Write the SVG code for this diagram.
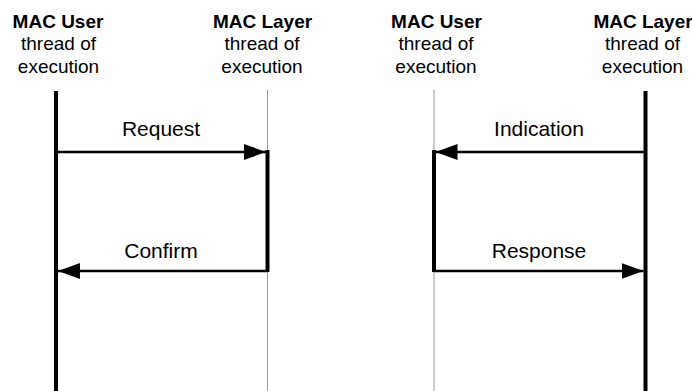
<svg xmlns="http://www.w3.org/2000/svg" width="692" height="391" viewBox="0 0 692 391">
<defs>
<style>
text{font-family:"Liberation Sans",Arial,sans-serif;fill:#000;text-anchor:middle}
.h{font-size:19px;font-weight:bold}
.s{font-size:19px}
.l{font-size:21px}
.thick{stroke:#000;stroke-width:4;fill:none}
.thin{stroke:#999;stroke-width:1;fill:none}
.msg{stroke:#000;stroke-width:2.5;fill:none}
</style>
<marker id="ah" markerUnits="userSpaceOnUse" markerWidth="24" markerHeight="16" refX="22" refY="8" orient="auto">
<path d="M0,0 L22,8 L0,16 Z" fill="#000"/>
</marker>
</defs>
<rect width="692" height="391" fill="#fff"/>
<g id="user1">
<text class="h" x="58" y="27.5">MAC User</text>
<text class="s" x="58.5" y="50">thread of</text>
<text class="s" x="58.5" y="72.5">execution</text>
<line class="thick" x1="56" y1="91" x2="56" y2="391"/>
</g>
<g id="layer1">
<text class="h" x="262.5" y="27.5">MAC Layer</text>
<text class="s" x="262" y="50">thread of</text>
<text class="s" x="262" y="72.5">execution</text>
<line class="thin" x1="267.5" y1="90" x2="267.5" y2="391"/>
<line class="thick" x1="267.5" y1="150" x2="267.5" y2="272"/>
</g>
<g id="user2">
<text class="h" x="436.5" y="27.5">MAC User</text>
<text class="s" x="436" y="50">thread of</text>
<text class="s" x="436" y="72.5">execution</text>
<line class="thin" x1="434" y1="90" x2="434" y2="391"/>
<line class="thick" x1="434" y1="150" x2="434" y2="272"/>
</g>
<g id="layer2">
<text class="h" x="643" y="27.5">MAC Layer</text>
<text class="s" x="642.5" y="50">thread of</text>
<text class="s" x="642.5" y="72.5">execution</text>
<line class="thick" x1="645.5" y1="91" x2="645.5" y2="391"/>
</g>
<g id="connectors">
<line class="msg" x1="56" y1="152" x2="266" y2="152" marker-end="url(#ah)"/>
<text class="l" x="161" y="136">Request</text>
<line class="msg" x1="267.5" y1="271" x2="58" y2="271" marker-end="url(#ah)"/>
<text class="l" x="161" y="257.5">Confirm</text>
<line class="msg" x1="645.5" y1="152" x2="435.5" y2="152" marker-end="url(#ah)"/>
<text class="l" x="539" y="136">Indication</text>
<line class="msg" x1="434" y1="271" x2="643.5" y2="271" marker-end="url(#ah)"/>
<text class="l" x="539" y="257.5">Response</text>
</g>
</svg>
